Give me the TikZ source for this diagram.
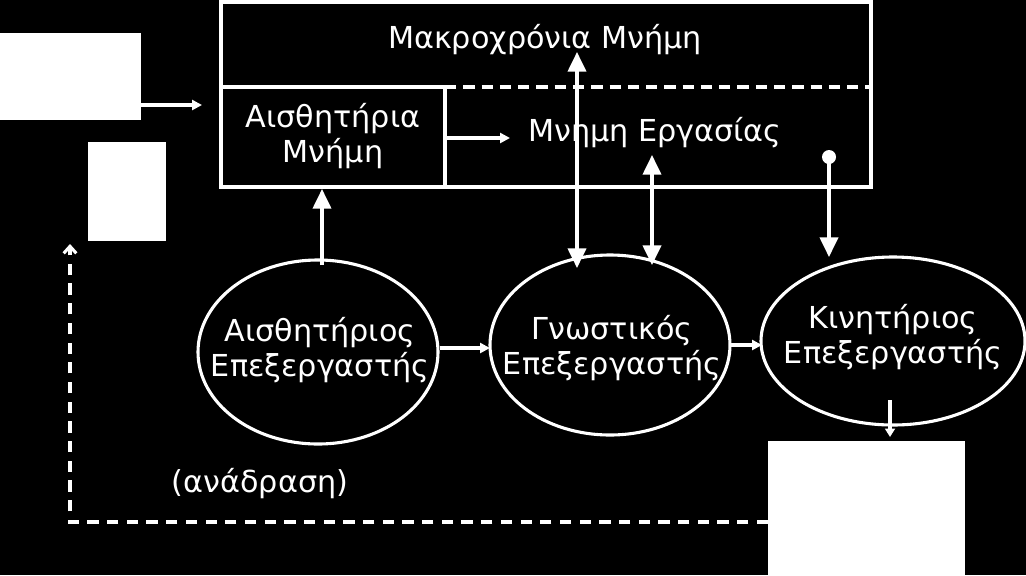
\documentclass[tikz,border=0pt]{standalone}
\usepackage{fontspec}
\setmainfont{DejaVu Sans}
\usetikzlibrary{arrows.meta}
\begin{document}
\begin{tikzpicture}[x=0.025cm,y=-0.025cm,
  ln/.style={white,line width=2.2pt},
  ar/.style={ln,-{Triangle[length=14pt,width=13pt]}},
  dar/.style={ln,{Triangle[length=14pt,width=13pt]}-{Triangle[length=14pt,width=13pt]}},
  sar/.style={ln,-{Triangle[length=7pt,width=7pt]}},
  txt/.style={white,font=\fontsize{21.5}{25}\selectfont,align=center}]
\fill[black] (0,0) rectangle (1026,575);
\useasboundingbox (0,0) rectangle (1026,575);
\fill[white] (0,33) rectangle (141,120);
\fill[white] (88,142) rectangle (166,241);
\fill[white] (768,441) rectangle (965,575);
% memory box
\draw[ln] (221,2) rectangle (871,187);
\draw[ln] (221,87) -- (445,87);
\draw[ln,dashed,dash pattern=on 8pt off 5pt] (445,87) -- (871,87);
\draw[ln] (445,87) -- (445,187);
\node[txt] (ltm) at (545,40) {Μακροχρόνια Μνήμη};
\node[txt] (sm) at (333,136) {Αισθητήρια\\Μνήμη};
\node[txt] (wm) at (655,133) {Μνημη Εργασίας};
\coordinate (b1) at (141,105); \coordinate (b1e) at (202,105);
\draw[sar] (b1) -- (b1e);
\coordinate (sa) at (447,138); \coordinate (sb) at (510,138);
\draw[sar] (sa) -- (sb);
% ellipses
\draw[ln] (318,352) ellipse (120 and 92);
\draw[ln] (610,345) ellipse (120 and 90);
\draw[ln] (893,341) ellipse (132 and 84);
\node[txt] (e1) at (320,350) {Αισθητήριος\\Επεξεργαστής};
\node[txt] (e2) at (612,348) {Γνωστικός\\Επεξεργαστής};
\node[txt] (e3) at (893,337) {Κινητήριος\\Επεξεργαστής};
\coordinate (u1) at (322,265); \coordinate (u2) at (322,189);
\draw[ar] (u1) -- (u2);
\coordinate (d1) at (577,52); \coordinate (d2) at (577,268);
\draw[dar] (d1) -- (d2);
\coordinate (f1) at (652,155); \coordinate (f2) at (652,265);
\draw[dar] (f1) -- (f2);
\fill[white] (829,157) circle (7);
\coordinate (m1) at (829,157); \coordinate (m2) at (829,257);
\draw[ar] (m1) -- (m2);
\coordinate (h1) at (440,348); \coordinate (h2) at (490,348);
\draw[sar] (h1) -- (h2);
\coordinate (k1) at (730,345); \coordinate (k2) at (762,345);
\draw[sar] (k1) -- (k2);
\coordinate (o1) at (890,400); \coordinate (o2) at (890,437);
\draw[ln,-{Triangle[length=6pt,width=7pt]}] (o1) -- (o2);
\coordinate (fb1) at (768,522); \coordinate (fb2) at (70,244);
\draw[ln,dashed,dash pattern=on 8pt off 6pt,-{Straight Barb[length=5pt,width=9pt]}] (fb1) -- (70,522) -- (fb2);
\node[txt] (fb) at (260,484) {(ανάδραση)};
\end{tikzpicture}
\end{document}
